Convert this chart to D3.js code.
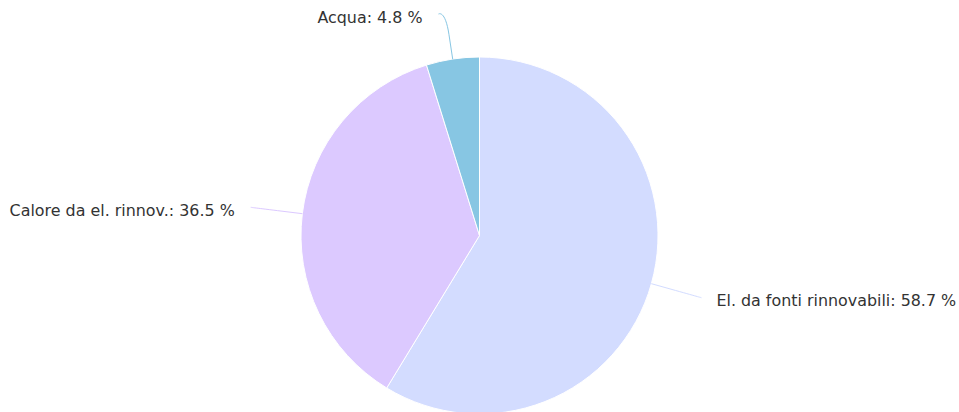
<!DOCTYPE html>
<html>
<head>
<meta charset="utf-8">
<script src="https://cdn.jsdelivr.net/npm/d3@7"></script>
<style>
  body { margin: 0; background: #fff; }
  svg { display: block; }
  .label { font-family: "DejaVu Sans", sans-serif; font-size: 15.9px; fill: #333333; }
</style>
</head>
<body>
<script>
// data
var categories = ["El. da fonti rinnovabili", "Calore da el. rinnov.", "Acqua"];
var shares = [58.7, 36.5, 4.8];
var colors = ["#d3dcff", "#dcc9ff", "#87c6e3"];

var width = 959,
  height = 412;
var cx = 479.5,
  cy = 235.5,
  r = 178.5;

var svg = d3
  .select("body")
  .append("svg")
  .attr("width", width)
  .attr("height", height);

var slices = categories.map((c, i) => ({ name: c, value: shares[i], color: colors[i] }));

var pie = d3.pie().sort(null).value(d => d.value);
var arc = d3.arc().innerRadius(0).outerRadius(r);
var arcs = pie(slices);

var g = svg.append("g").attr("transform", `translate(${cx},${cy})`);

g.selectAll("path.slice")
  .data(arcs)
  .enter()
  .append("path")
  .attr("class", "slice")
  .attr("d", arc)
  .attr("fill", d => d.data.color)
  .attr("stroke", "#ffffff")
  .attr("stroke-width", 1)
  .attr("stroke-linejoin", "round");

// label + connector layout (polar, like a highcharts pie)
var polar = (a, rad) => [rad * Math.sin(a), -rad * Math.cos(a)];
var labelR = r + 52,
  breakR = r + 25,
  topY = 14 - cy;

arcs.forEach(d => {
  var a = (d.startAngle + d.endAngle) / 2;
  var p0 = polar(a, r);
  var p1 = polar(a, breakR);
  var p2 = polar(a, labelR);
  var right = Math.sin(a) >= 0;
  if (p2[1] < topY) {
    // pushed down from the top edge: slide it outward a bit too
    p2[0] += (right ? 1 : -1) * (topY - p2[1]);
    p2[1] = topY;
  }

  var c2 = [2 * p1[0] - p0[0], 2 * p1[1] - p0[1]];
  g.append("path")
    .attr(
      "d",
      `M${p2[0]},${p2[1]} C${p2[0]},${p2[1]} ${c2[0]},${c2[1]} ${p1[0]},${p1[1]} L${p0[0]},${p0[1]}`
    )
    .attr("fill", "none")
    .attr("stroke", d.data.color)
    .attr("stroke-width", 1);

  g.append("text")
    .attr("class", "label")
    .attr("x", p2[0] + (right ? 15 : -16))
    .attr("y", p2[1] + 8.5)
    .attr("text-anchor", right ? "start" : "end")
    .text(`${d.data.name}: ${d.data.value} %`);
});
</script>
</body>
</html>
